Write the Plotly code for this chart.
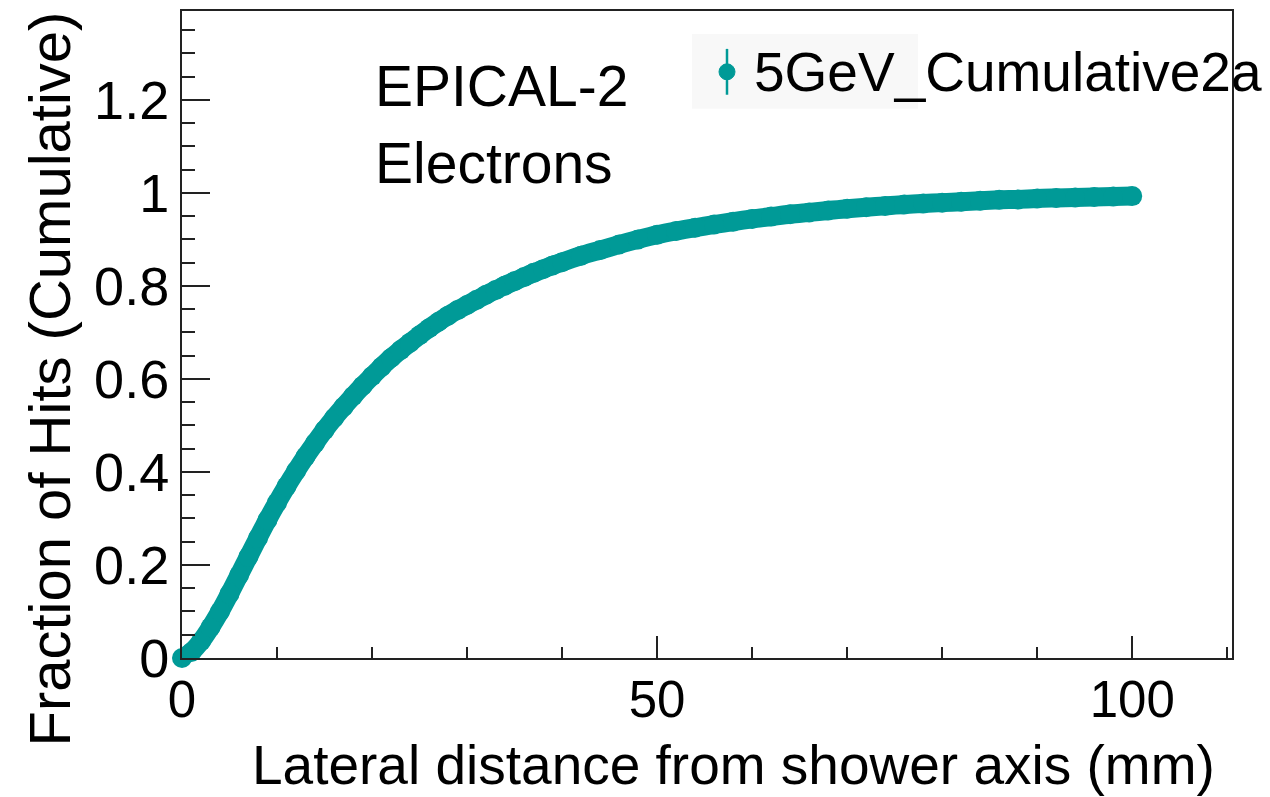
import plotly.graph_objects as go

# Lateral distance from shower axis (mm) and cumulative fraction of hits
distance_mm = [0, 1, 2, 3, 4, 5, 6, 7, 8, 9, 10, 11, 12, 13, 14, 15, 16, 17, 18, 19,
               20, 21, 22, 23, 24, 25, 26, 27, 28, 29, 30, 31, 32, 33, 34, 35, 36, 37,
               38, 39, 40, 42, 44, 46, 48, 50, 52, 54, 56, 58, 60, 62, 64, 66, 68, 70,
               72, 74, 76, 78, 80, 82, 84, 86, 88, 90, 92, 94, 96, 98, 100]
cumulative_fraction = [0.000, 0.013, 0.036, 0.066, 0.100, 0.138, 0.178, 0.218, 0.258, 0.297,
                       0.334, 0.369, 0.402, 0.433, 0.462, 0.490, 0.516, 0.540, 0.563, 0.585,
                       0.606, 0.626, 0.645, 0.662, 0.678, 0.694, 0.709, 0.723, 0.736, 0.748,
                       0.759, 0.770, 0.781, 0.791, 0.801, 0.810, 0.819, 0.828, 0.836, 0.844,
                       0.851, 0.865, 0.877, 0.889, 0.900, 0.910, 0.918, 0.925, 0.932, 0.938,
                       0.944, 0.949, 0.954, 0.958, 0.962, 0.966, 0.969, 0.972, 0.975, 0.977,
                       0.979, 0.981, 0.983, 0.985, 0.986, 0.988, 0.989, 0.990, 0.991, 0.992,
                       0.993]

x_tick_vals = [0, 50, 100]
x_tick_text = ["0", "50", "100"]
y_tick_vals = [0, 0.2, 0.4, 0.6, 0.8, 1.0, 1.2]
y_tick_text = ["0", "0.2", "0.4", "0.6", "0.8", "1", "1.2"]

series_name = "5GeV_Cumulative2a"
x_title = "Lateral distance from shower axis (mm)"
y_title = "Fraction of Hits (Cumulative)"
label_lines = ["EPICAL-2", "Electrons"]

TEAL = "#009a97"
FONT = "Liberation Sans, Arial, Helvetica, sans-serif"
AXIS_COLOR = "#222222"

fig = go.Figure()
fig.add_trace(go.Scatter(
    x=distance_mm, y=cumulative_fraction, mode="lines+markers",
    name=series_name, showlegend=False,
    line=dict(color=TEAL, width=19, shape="spline", smoothing=0.8),
    marker=dict(color=TEAL, size=20),
    cliponaxis=False,
))

W, H = 1270, 797
L, R, T, B = 182, 38, 9, 139

def px(xp):
    return (xp - L) / (W - L - R)

def py(yp):
    return (H - B - yp) / (H - T - B)

fig.update_layout(
    width=W, height=H,
    margin=dict(l=L, r=R, t=T, b=B, pad=0),
    paper_bgcolor="white", plot_bgcolor="white",
    font=dict(family=FONT, color="black", size=56),
    xaxis=dict(
        range=[0, 110.5], showgrid=False, zeroline=False,
        showline=True, linecolor=AXIS_COLOR, linewidth=2, mirror=True,
        tickmode="array", tickvals=x_tick_vals, ticktext=x_tick_text,
        ticks="inside", ticklen=22, tickwidth=1.5, tickcolor=AXIS_COLOR,
        tickfont=dict(size=51, family=FONT), ticklabelstandoff=-4,
        minor=dict(dtick=10, ticks="inside", ticklen=11, tickwidth=1.5, tickcolor=AXIS_COLOR, showgrid=False),
    ),
    yaxis=dict(
        range=[0, 1.391], showgrid=False, zeroline=False,
        showline=True, linecolor=AXIS_COLOR, linewidth=2, mirror=True,
        tickmode="array", tickvals=y_tick_vals, ticktext=y_tick_text,
        ticks="inside", ticklen=28, tickwidth=1.5, tickcolor=AXIS_COLOR,
        tickfont=dict(size=54, family=FONT),
        minor=dict(dtick=0.05, tick0=0, ticks="inside", ticklen=13, tickwidth=1.5, tickcolor=AXIS_COLOR, showgrid=False),
    ),
)

# Axis titles (ROOT style: aligned to the end of the axis)
fig.add_annotation(text=x_title, xref="paper", yref="paper", x=px(1216), y=py(797),
                   xanchor="right", yanchor="bottom", showarrow=False,
                   font=dict(size=55, family=FONT), borderpad=0)
fig.add_annotation(text=y_title, xref="paper", yref="paper", x=px(50), y=py(8),
                   xanchor="center", yanchor="top", textangle=-90, showarrow=False,
                   font=dict(size=58, family=FONT))

# Label text
fig.add_annotation(text=label_lines[0], xref="paper", yref="paper", x=px(373), y=py(84),
                   xanchor="left", yanchor="middle", showarrow=False, font=dict(size=57, family=FONT))
fig.add_annotation(text=label_lines[1], xref="paper", yref="paper", x=px(373), y=py(161),
                   xanchor="left", yanchor="middle", showarrow=False, font=dict(size=57, family=FONT))

# Legend box (drawn manually to mimic ROOT TLegend)
fig.add_shape(type="rect", xref="paper", yref="paper", x0=px(692), x1=px(918), y0=py(107), y1=py(32),
              fillcolor="#f8f8f8", line=dict(width=0), layer="below")
fig.add_shape(type="line", xref="paper", yref="paper", x0=px(727), x1=px(727), y0=py(93), y1=py(47),
              line=dict(color=TEAL, width=2.5))
fig.add_shape(type="circle", xref="paper", yref="paper", x0=px(719), x1=px(735), y0=py(78), y1=py(62),
              fillcolor=TEAL, line=dict(color=TEAL, width=1))
fig.add_annotation(text=series_name, xref="paper", yref="paper", x=px(752), y=py(70),
                   xanchor="left", yanchor="middle", showarrow=False, font=dict(size=55, family=FONT))

fig.write_html("out.html", config={"displayModeBar": False},
               post_script="document.body.style.margin='0';document.body.style.overflow='hidden';")
